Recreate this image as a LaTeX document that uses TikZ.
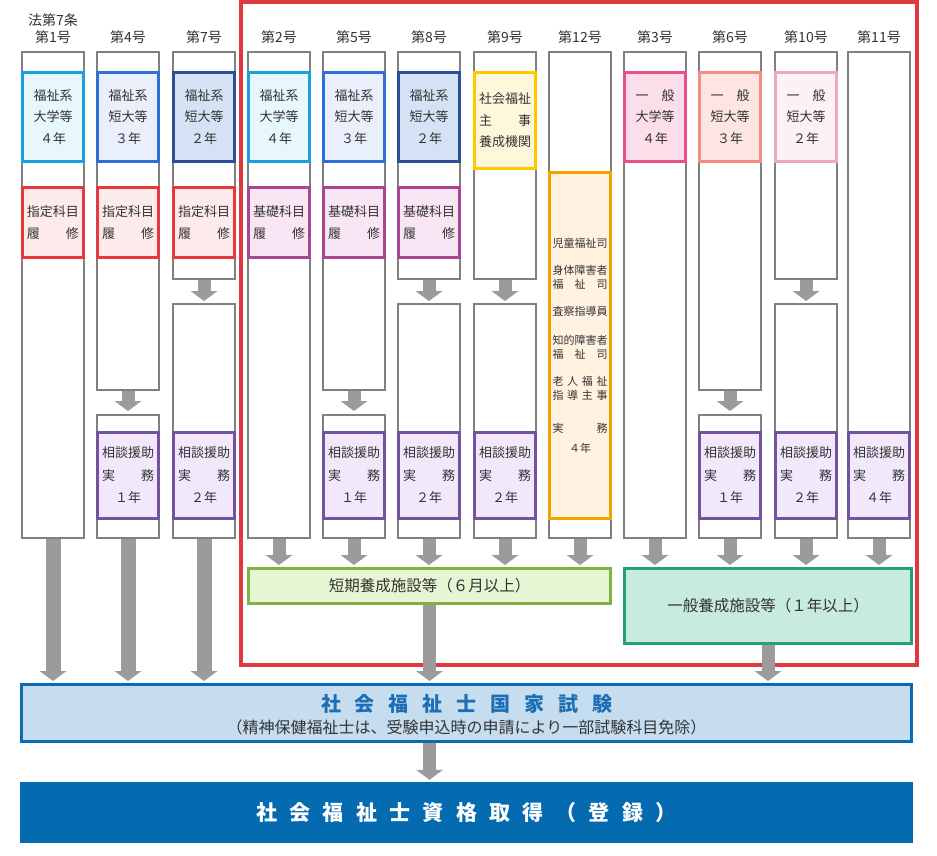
\documentclass[tikz,border=0pt]{standalone}
\usepackage{fontspec}
\setmainfont{Noto Sans CJK JP}
\usetikzlibrary{positioning, arrows.meta}

\definecolor{colgray}{HTML}{808080}
\definecolor{arrgray}{HTML}{9B9B9B}
\definecolor{txt}{HTML}{333333}
\definecolor{redframe}{HTML}{E0383E}
\definecolor{fukuA}{HTML}{1AA0DC}  \definecolor{fukuAf}{HTML}{E8F6FD}
\definecolor{fukuB}{HTML}{2F6FD8}  \definecolor{fukuBf}{HTML}{E9F0FC}
\definecolor{fukuC}{HTML}{2C4F96}  \definecolor{fukuCf}{HTML}{D5E2F6}
\definecolor{shitei}{HTML}{E8383D} \definecolor{shiteif}{HTML}{FDEAEA}
\definecolor{kiso}{HTML}{A8468F}   \definecolor{kisof}{HTML}{F9E6F4}
\definecolor{shuji}{HTML}{FFC800}  \definecolor{shujif}{HTML}{FFF7DC}
\definecolor{jitsu}{HTML}{F5A200}  \definecolor{jitsuf}{HTML}{FFF2E0}
\definecolor{ippA}{HTML}{E8508C}   \definecolor{ippAf}{HTML}{FCDDEA}
\definecolor{ippB}{HTML}{F08E82}   \definecolor{ippBf}{HTML}{FDE5E2}
\definecolor{ippC}{HTML}{EAA9BE}   \definecolor{ippCf}{HTML}{FDF1F5}
\definecolor{soudan}{HTML}{7352A0} \definecolor{soudanf}{HTML}{F2E8FC}
\definecolor{tanki}{HTML}{7FB241}  \definecolor{tankif}{HTML}{E6F5D4}
\definecolor{ippan}{HTML}{259F7A}  \definecolor{ippanf}{HTML}{C7EBE0}
\definecolor{shiken}{HTML}{0A6BB2} \definecolor{shikenf}{HTML}{C6DDEF}
\definecolor{shikent}{HTML}{1C6FB5}
\definecolor{shikaku}{HTML}{046BB0}

\newcommand\fsz[2]{\fontsize{#1pt}{#2pt}\selectfont}
\newcommand\jfit[1]{\makebox[52pt]{#1}}
\newcommand\jfitsm[1]{\makebox[55pt]{#1}}

\begin{document}
\begin{tikzpicture}[x=1pt, y=-1pt,
    col/.style={draw=colgray, line width=2pt, fill=white, minimum width=62pt,
                inner sep=0pt, anchor=north},
    head/.style={text=txt, font=\fsz{14}{16}, inner sep=0pt},
    inbox/.style={line width=3pt, minimum width=61pt, inner sep=0pt, text=txt,
                  font=\fsz{13}{21.5}, align=center},
    upper/.style={inbox, minimum height=89pt},
    lower/.style={inbox, minimum height=70pt},
    fuku4/.style={upper, draw=fukuA, fill=fukuAf},
    fuku3/.style={upper, draw=fukuB, fill=fukuBf},
    fuku2/.style={upper, draw=fukuC, fill=fukuCf},
    ippan4/.style={upper, draw=ippA, fill=ippAf},
    ippan3/.style={upper, draw=ippB, fill=ippBf},
    ippan2/.style={upper, draw=ippC, fill=ippCf},
    shiteibox/.style={lower, draw=shitei, fill=shiteif},
    kisobox/.style={lower, draw=kiso, fill=kisof},
    soudanbox/.style={inbox, minimum height=86pt, draw=soudan, fill=soudanf,
                      font=\fsz{13}{22.5}},
    facility/.style={line width=3pt, inner sep=0pt, text=txt, font=\fsz{15.5}{17}},
    blk/.style={draw=arrgray, line width=13pt,
                -{Triangle[width=27pt, length=10pt, line width=0pt]}}]

  \useasboundingbox (0,0) rectangle (937,855);
  \draw[redframe, line width=4pt] (241,2) rectangle (917,665);

  % column headers
  \foreach \n/\x in {1/53, 4/128, 7/204, 2/279, 5/354, 8/429, 9/505, 12/580,
                     3/655, 6/730, 10/806, 11/879}
    \node[head] (h\n) at (\x,37) {第\n 号};
  \node[head, above=3pt of h1] (h0) {法第7条};

  % columns
  \foreach \n/\x in {1/53, 2/279, 12/580, 3/655, 11/879}
    \node[col, minimum height=486pt] (k\n) at (\x,51) {};
  \foreach \n/\x in {7/204, 8/429, 9/505, 10/806} {
    \node[col, minimum height=227pt] (k\n a) at (\x,51) {};
    \node[col, minimum height=234pt] (k\n b) at (\x,303) {};
  }
  \foreach \n/\x in {4/128, 5/354, 6/730} {
    \node[col, minimum height=338pt] (k\n a) at (\x,51) {};
    \node[col, minimum height=123pt] (k\n b) at (\x,414) {};
  }

  % schools
  \node[fuku4] (u1) at (53,117) {福祉系\\大学等\\４年};
  \node[fuku3] (u4) at (128,117) {福祉系\\短大等\\３年};
  \node[fuku2] (u7) at (204,117) {福祉系\\短大等\\２年};
  \node[fuku4] (u2) at (279,117) {福祉系\\大学等\\４年};
  \node[fuku3] (u5) at (354,117) {福祉系\\短大等\\３年};
  \node[fuku2] (u8) at (429,117) {福祉系\\短大等\\２年};
  \node[upper, minimum height=96pt, draw=shuji, fill=shujif] (u9) at (505,120.5)
    {社会福祉\\\jfit{主\hfill 事}\\養成機関};
  \node[ippan4] (u3) at (655,117) {一　般\\大学等\\４年};
  \node[ippan3] (u6) at (730,117) {一　般\\短大等\\３年};
  \node[ippan2] (u10) at (806,117) {一　般\\短大等\\２年};

  % subjects
  \foreach \n/\x in {1/53, 4/128, 7/204}
    \node[shiteibox] (m\n) at (\x,222.5) {指定科目\\\jfit{履\hfill 修}};
  \foreach \n/\x in {2/279, 5/354, 8/429}
    \node[kisobox] (m\n) at (\x,222.5) {基礎科目\\\jfit{履\hfill 修}};

  % practice
  \node[inbox, minimum height=346pt, draw=jitsu, fill=jitsuf, font=\fsz{11}{14}]
    (j12) at (580,345.5)
    {児童福祉司\\[13pt]身体障害者\\\jfitsm{福\hfill 祉\hfill 司}\\[13pt]%
     査察指導員\\[15pt]知的障害者\\\jfitsm{福\hfill 祉\hfill 司}\\[13pt]%
     \jfitsm{老\hfill 人\hfill 福\hfill 祉}\\\jfitsm{指\hfill 導\hfill 主\hfill 事}\\[19pt]%
     \jfitsm{実\hfill 務}\\[6pt]４年};
  \foreach \n/\x/\yr in {4/128/１, 7/204/２, 5/354/１, 8/429/２, 9/505/２,
                         6/730/１, 10/806/２, 11/879/４}
    \node[soudanbox] (s\n) at (\x,475.5) {相談援助\\\jfit{実\hfill 務}\\\yr 年};

  % facilities, exam, registration
  \node[facility, draw=tanki, fill=tankif, minimum width=362pt, minimum height=35pt]
    (tanki) at (429.5,586) {短期養成施設等（６月以上）};
  \node[facility, draw=ippan, fill=ippanf, minimum width=287pt, minimum height=75pt]
    (ippan) at (768,606) {一般養成施設等（１年以上）};
  \node[line width=3pt, draw=shiken, fill=shikenf, minimum width=890pt,
        minimum height=57pt] (shiken) at (466.5,713) {};
  \node[text=shikent, font=\bfseries\fsz{20}{22}, inner sep=0pt] (shikent)
    at ([yshift=9pt]shiken.center) {\makebox[291pt][s]{社 会 福 祉 士 国 家 試 験}};
  \node[text=txt, font=\fsz{16}{18}, inner sep=0pt] (shikens)
    at ([yshift=-14pt]shiken.center) {（精神保健福祉士は、受験申込時の申請により一部試験科目免除）};
  \node[fill=shikaku, text=white, font=\bfseries\fsz{21}{23}, minimum width=893pt,
        minimum height=61pt] (shikaku) at (466.5,812.5)
    {\makebox[420pt][s]{社 会 福 祉 士 資 格 取 得 （ 登 録 ）}};

  % arrows
  \foreach \n in {7,8,9,10}
    \draw[blk, shorten >=2pt] (k\n a) -- (k\n b);
  \foreach \n in {4,5,6}
    \draw[blk, shorten >=3pt] (k\n a) -- (k\n b);
  \foreach \c in {k2, k5b, k8b, k9b, k12}
    \draw[blk, shorten >=2pt] (\c.south) -- (\c.south |- tanki.north);
  \foreach \c in {k3, k6b, k10b, k11}
    \draw[blk, shorten >=2pt] (\c.south) -- (\c.south |- ippan.north);
  \foreach \c in {k1, k4b, k7b}
    \draw[blk, line width=15pt, shorten >=2pt] (\c.south) -- (\c.south |- shiken.north);
  \draw[blk, shorten >=2pt] (tanki.south) -- (tanki.south |- shiken.north);
  \draw[blk, shorten >=2pt] (ippan.south) -- (ippan.south |- shiken.north);
  \draw[blk, shorten >=2pt] (tanki.south |- shiken.south) -- (tanki.south |- shikaku.north);
\end{tikzpicture}
\end{document}
